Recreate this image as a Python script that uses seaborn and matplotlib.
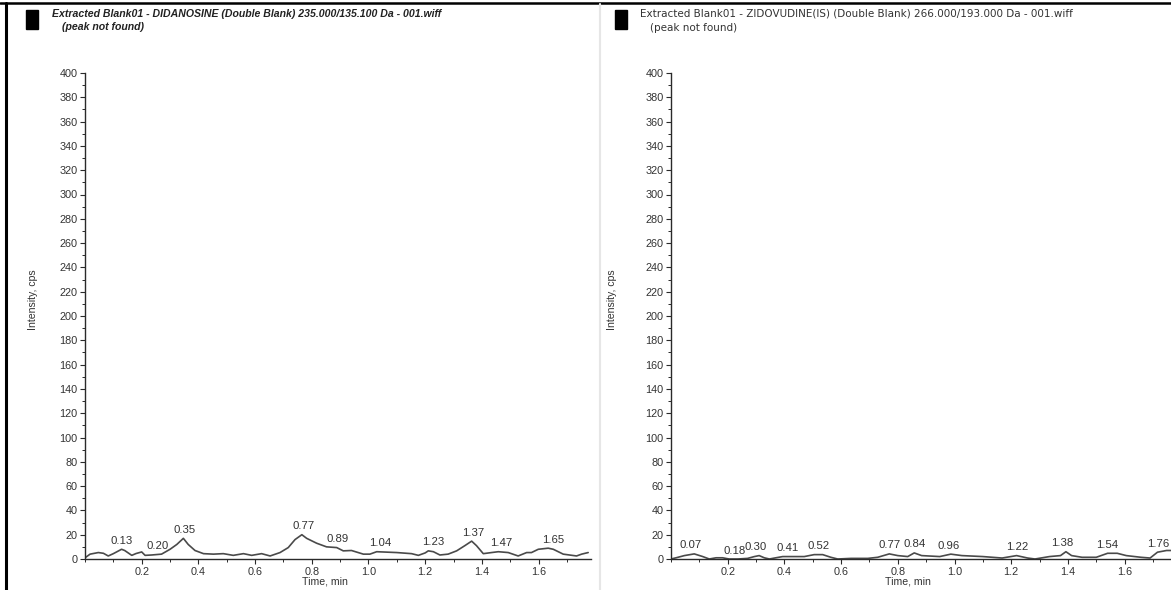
import numpy as np
import pandas as pd
import seaborn as sns
import matplotlib.pyplot as plt
from matplotlib.patches import Rectangle
from matplotlib.ticker import MultipleLocator

# left panel: didanosine trace (time, min / intensity, cps)
left_time = [0.0, 0.018, 0.047, 0.065, 0.082, 0.10, 0.129, 0.14, 0.165, 0.18, 0.20, 0.212,
             0.235, 0.27, 0.30, 0.324, 0.347, 0.364, 0.388, 0.418, 0.453, 0.488, 0.523, 0.559,
             0.588, 0.623, 0.653, 0.688, 0.717, 0.741, 0.765, 0.782, 0.817, 0.852, 0.888, 0.911,
             0.94, 0.982, 1.005, 1.029, 1.10, 1.152, 1.176, 1.20, 1.211, 1.229, 1.252, 1.281,
             1.311, 1.34, 1.364, 1.381, 1.405, 1.434, 1.458, 1.493, 1.528, 1.558, 1.575, 1.599,
             1.634, 1.652, 1.687, 1.734, 1.752, 1.775]
left_intensity = [1, 4, 5.3, 4.7, 2.5, 4.4, 8, 7, 3, 4.5, 5.8, 3,
                  3.3, 4, 8, 12, 17, 12, 7, 4.4, 4, 4.4, 3, 4.4,
                  3, 4.4, 2.5, 5.3, 9.4, 16, 20, 17, 13, 10, 9.4, 6.7,
                  7, 4, 4, 6, 5.3, 4.4, 3, 5, 6.7, 6, 3.3, 4,
                  6.7, 11, 14.7, 11, 4.4, 5.3, 6, 5.3, 2.5, 5.3, 5.3, 8,
                  8.9, 8, 4, 2.5, 4, 5.3]
left_peaks = ['0.13', '0.20', '0.35', '0.77', '0.89', '1.04', '1.23', '1.37', '1.47', '1.65']

# right panel: zidovudine (IS) trace
right_time = [0.0, 0.018, 0.047, 0.082, 0.112, 0.135, 0.159, 0.182, 0.205, 0.235, 0.27, 0.294,
              0.311, 0.329, 0.347, 0.37, 0.394, 0.435, 0.47, 0.505, 0.535, 0.564, 0.588, 0.635,
              0.694, 0.729, 0.77, 0.80, 0.835, 0.858, 0.884, 0.948, 0.987, 1.026, 1.10, 1.168,
              1.219, 1.258, 1.284, 1.335, 1.374, 1.393, 1.413, 1.45, 1.50, 1.54, 1.574, 1.606,
              1.658, 1.69, 1.716, 1.748, 1.765]
right_intensity = [0, 1, 2.8, 4.2, 2, 0, 1, 1, 0, 0, 0.5, 2,
                   2.8, 1, 0, 1, 2, 2, 2, 3.6, 3.6, 1.4, 0, 0.5,
                   0.5, 1.4, 4.2, 2.8, 2, 5, 2.8, 2, 4, 2.8, 2, 0.8,
                   2.8, 0.8, 0, 2, 2.8, 6, 2.8, 1.4, 1.4, 4.7, 4.7, 2.8,
                   1.4, 0.8, 5.6, 7, 7]
right_peaks = ['0.07', '0.18', '0.30', '0.41', '0.52', '0.77', '0.84', '0.96',
               '1.22', '1.38', '1.54', '1.76']

left_title = 'Extracted Blank01 - DIDANOSINE (Double Blank) 235.000/135.100 Da - 001.wiff'
right_title = 'Extracted Blank01 - ZIDOVUDINE(IS) (Double Blank) 266.000/193.000 Da - 001.wiff'
subtitle = '(peak not found)'

# labels the software pushed sideways to avoid overlap
nudge = {'0.20': 0.055, '0.18': 0.045, '0.84': 0.02, '0.96': 0.02, '1.76': -0.04}

sns.set_theme(style='white')
plt.rcParams['font.family'] = ['Liberation Sans', 'DejaVu Sans']

W, H = 1171, 590
fig = plt.figure(figsize=(W / 100, H / 100), dpi=100)
fig.patch.set_facecolor('white')

TRACE = '#4a4a4a'
INK = '#2a2a2a'
TXT = '#333333'


def px_axes(x0, x1, y_top, y_bot):
    return fig.add_axes([x0 / W, 1 - y_bot / H, (x1 - x0) / W, (y_bot - y_top) / H])


def draw_panel(ax, t, inten, peaks, xmax):
    df = pd.DataFrame({'Time, min': t, 'Intensity, cps': inten})
    sns.lineplot(data=df, x='Time, min', y='Intensity, cps', ax=ax, color=TRACE,
                 linewidth=1.2, estimator=None, sort=False)
    ax.set_xlim(0, xmax)
    ax.set_ylim(0, 400)
    ax.set_xlabel('')
    ax.set_ylabel('')
    ax.set_facecolor('none')
    for s in ['top', 'right']:
        ax.spines[s].set_visible(False)
    for s in ['left', 'bottom']:
        ax.spines[s].set_color(INK)
        ax.spines[s].set_linewidth(1.0)
    ax.xaxis.set_minor_locator(MultipleLocator(0.1))
    ax.yaxis.set_major_locator(MultipleLocator(20))
    ax.yaxis.set_minor_locator(MultipleLocator(10))
    ax.set_xticks([0.2, 0.4, 0.6, 0.8, 1.0, 1.2, 1.4, 1.6])
    ax.set_xticklabels(['0.2', '0.4', '0.6', '0.8', '1.0', '1.2', '1.4', '1.6'])
    ax.tick_params(which='major', length=3.5, width=0.8, color=INK, labelsize=7.8,
                   labelcolor=TXT, pad=2, direction='out', left=True, bottom=True)
    ax.tick_params(which='minor', length=2, width=0.7, color=INK, direction='out',
                   left=True, bottom=True)
    tt = np.array(t)
    ii = np.array(inten)
    for lab in peaks:
        x = float(lab) + nudge.get(lab, 0.0)
        win = (tt > x - 0.025) & (tt < x + 0.025)
        y = ii[win].max() if win.any() else np.interp(x, tt, ii)
        ax.annotate(lab, (x, y), xytext=(0, 2.5), textcoords='offset points',
                    ha='center', va='bottom', fontsize=8.2, color=TXT)


ax1 = px_axes(85, 591, 73, 559)
draw_panel(ax1, left_time, left_intensity, left_peaks, 1.785)
ax2 = px_axes(671, 1171, 73, 559)
draw_panel(ax2, right_time, right_intensity, right_peaks, 500 / 283.5)

# axis titles
for cx in [33, 612]:
    fig.text(cx / W, 1 - 300 / H, 'Intensity, cps', rotation=90, ha='center', va='center',
             fontsize=7.6, color=TXT)
fig.text(325 / W, 1 - 581 / H, 'Time, min', ha='center', va='center', fontsize=7.6, color=TXT)
fig.text(908 / W, 1 - 581 / H, 'Time, min', ha='center', va='center', fontsize=7.6, color=TXT)

# panel headers
for rx in [26, 615]:
    fig.add_artist(Rectangle((rx / W, 1 - 29 / H), 12 / W, 19 / H, transform=fig.transFigure,
                             color='black'))
fig.text(52 / W, 1 - 14 / H, left_title, ha='left', va='center', fontsize=7.6,
         fontweight='bold', fontstyle='italic', color='#222222')
fig.text(62 / W, 1 - 27 / H, subtitle, ha='left', va='center', fontsize=7.6,
         fontweight='bold', fontstyle='italic', color='#222222')
fig.text(640 / W, 1 - 14 / H, right_title, ha='left', va='center', fontsize=7.5,
         color=TXT, family='DejaVu Sans')
fig.text(650 / W, 1 - 28 / H, subtitle, ha='left', va='center', fontsize=7.5, color=TXT,
         family='DejaVu Sans')

# frame lines of the screenshot
fig.add_artist(plt.Line2D([0, 1], [1 - 3 / H, 1 - 3 / H], transform=fig.transFigure,
                          color='black', linewidth=1.8))
fig.add_artist(plt.Line2D([6 / W, 6 / W], [0, 1 - 3 / H], transform=fig.transFigure,
                          color='black', linewidth=2.2))
fig.add_artist(plt.Line2D([600 / W, 600 / W], [0, 1 - 4 / H], transform=fig.transFigure,
                          color='#e6e6e6', linewidth=1.5))

fig.savefig('out.png', dpi=100, facecolor='white')
